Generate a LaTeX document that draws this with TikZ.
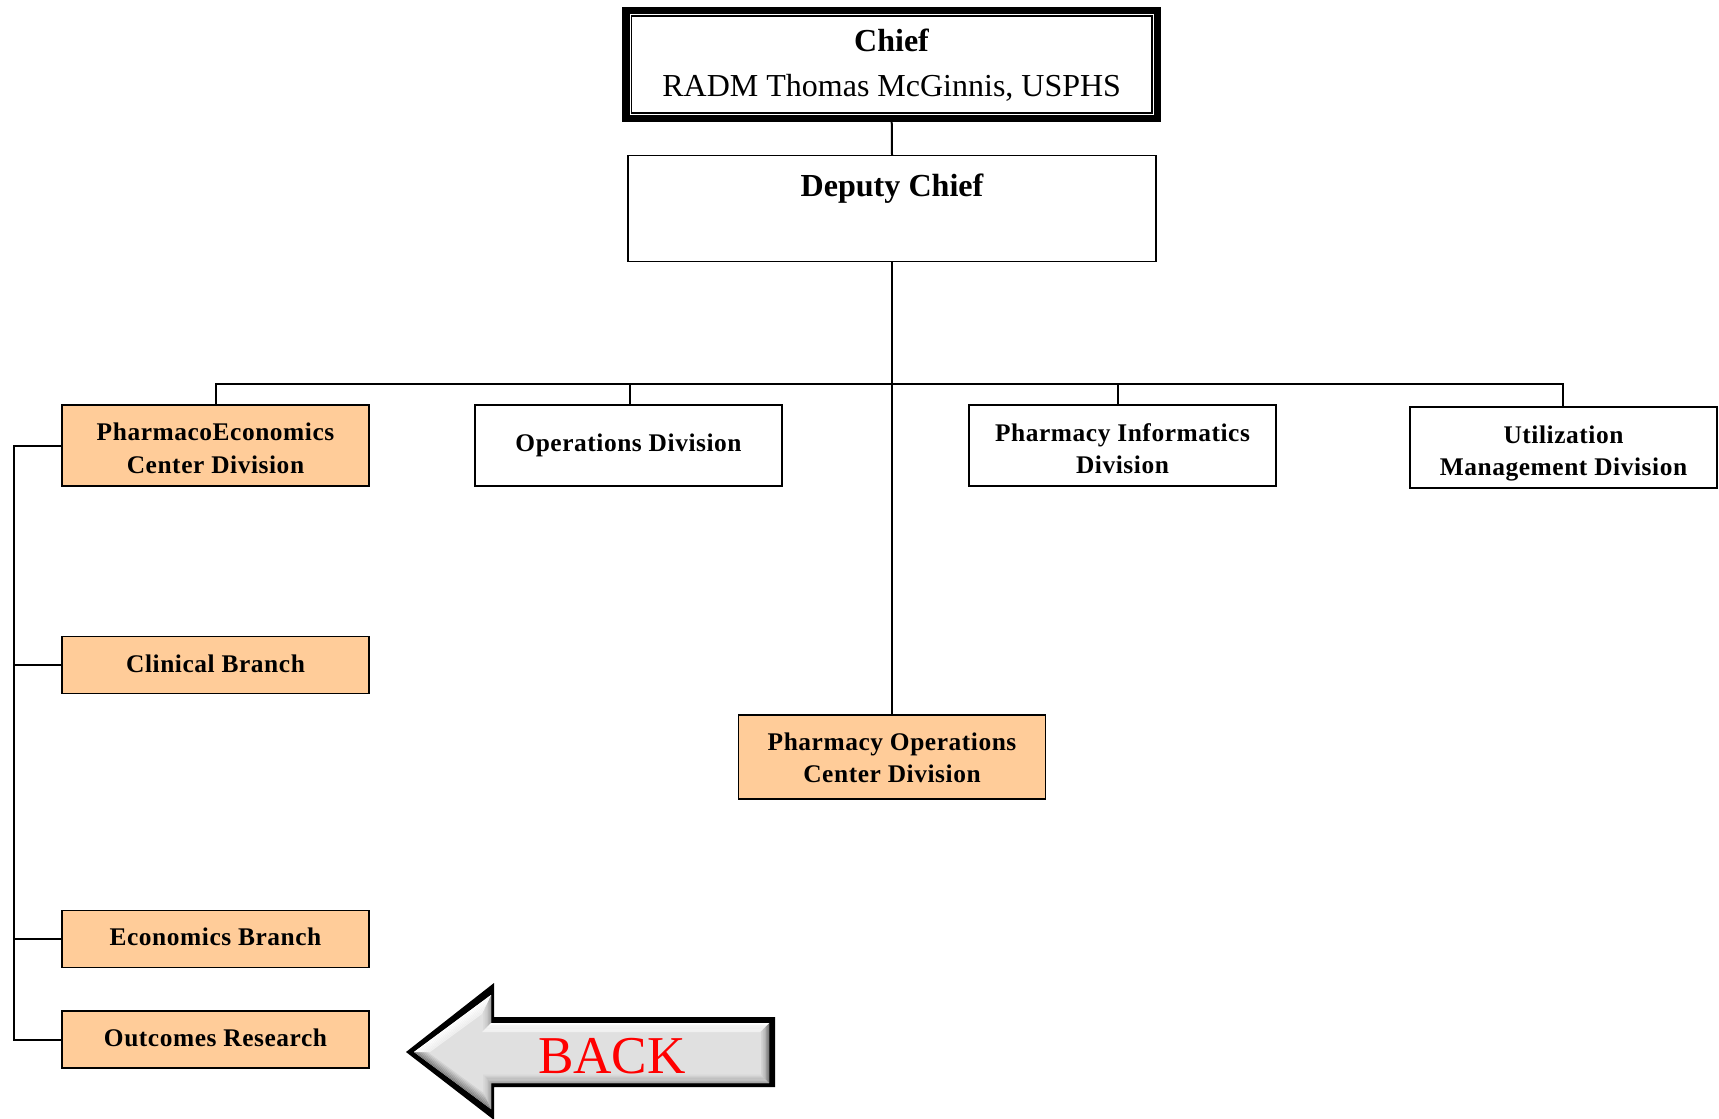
\documentclass[tikz,border=0pt]{standalone}
\usepackage{fontspec}
\usetikzlibrary{calc}
\setmainfont{Liberation Serif}
\newcommand{\boxlines}[2]{\raisebox{#1}[0pt][0pt]{\begin{tabular}{@{}c@{}}#2\end{tabular}}}
% bevel strip: outer edge #1--#2, inner edge #4--#3, colour #5 at the outer edge, #6 at the inner edge
\newcommand{\bevelstrip}[6]{%
  \foreach \i in {0,...,7}{%
    \pgfmathsetmacro{\ta}{\i/8}%
    \pgfmathsetmacro{\tb}{(\i+1)/8}%
    \pgfmathtruncatemacro{\pc}{100*\i/7}%
    \fill[color={#6!\pc!#5}] ($#1!\ta!#4$) -- ($#2!\ta!#3$) -- ($#2!\tb!#3$) -- ($#1!\tb!#4$) -- cycle;
  }%
}
\begin{document}
\begin{tikzpicture}[x=0.5pt,y=-0.5pt,
  orgbox/.style={draw=black,line width=0.95pt,fill=white,inner sep=0pt,outer sep=0pt,
    minimum width=153.5pt,font=\fontsize{12.7}{16.2}\selectfont\bfseries\addfontfeature{LetterSpace=2.2}},
  peach/.style={orgbox,fill=peachfill},
  conn/.style={draw=black,line width=1pt},
  headtext/.style={font=\fontsize{16}{22.15}\selectfont,inner sep=0pt}]
\definecolor{peachfill}{HTML}{FFCC99}
\definecolor{facegray}{HTML}{E0E0E0}
\definecolor{bevdark}{HTML}{808080}
\definecolor{bevmid}{HTML}{A8A8A8}
\definecolor{bevlight}{HTML}{F0F0F0}
\useasboundingbox (0,0) rectangle (1719,1119);
% nodes
\node[draw=black,line width=3.6pt,inner sep=0pt,outer sep=0pt,minimum width=265.8pt,minimum height=54pt,headtext] (chief) at (891.7,64.5)
  {\boxlines{-4.6pt}{\textbf{Chief}\\RADM Thomas McGinnis, USPHS}};
\draw[line width=0.75pt] ([shift={(2.7pt,-2.7pt)}]chief.north west) rectangle ([shift={(-2.7pt,2.7pt)}]chief.south east);
\node[orgbox,minimum width=264pt,minimum height=53pt] (deputy) at (892,208.5) {};
\node[anchor=base,inner sep=0pt,font=\fontsize{16.05}{20}\selectfont\bfseries] (deputytext) at (892,196.7) {Deputy Chief};
\node[peach,minimum height=40.5pt] (pe) at (215.5,445.5) {\boxlines{-5.6pt}{PharmacoEconomics\\Center Division}};
\node[orgbox,minimum height=40.5pt] (ops) at (628.5,445.5) {\boxlines{-2.75pt}{Operations Division}};
\node[orgbox,minimum height=40.5pt] (inf) at (1122.5,445.5) {\boxlines{-5.65pt}{Pharmacy Informatics\\Division}};
\node[orgbox,minimum height=40.5pt] (util) at (1563.5,447.5) {\boxlines{-5.65pt}{Utilization\\Management Division}};
\node[peach,minimum height=28.5pt] (clin) at (215.5,665) {\boxlines{-3.35pt}{Clinical Branch}};
\node[peach,minimum height=28.5pt] (econ) at (215.5,939) {\boxlines{-3pt}{Economics Branch}};
\node[peach,minimum height=28.5pt] (outc) at (215.5,1039.5) {\boxlines{-3.1pt}{Outcomes Research}};
\node[peach,minimum height=42pt] (poc) at (892,757) {\boxlines{-4.5pt}{Pharmacy Operations\\Center Division}};
% connectors
\coordinate (bus) at (892,383.5);
\coordinate (busPE) at (216,383.5);
\coordinate (busOps) at (630,383.5);
\coordinate (busInf) at (1118,383.5);
\coordinate (busUtil) at (1563,383.5);
\coordinate (lft) at (14,445.5);
\draw[conn] (chief.south) -- (deputy.north);
\draw[conn] (deputy.south) -- (poc.north);
\draw[conn] (busPE |- pe.north) -- (busPE) -- (busUtil) -- (busUtil |- util.north);
\draw[conn] (busOps) -- (busOps |- ops.north);
\draw[conn] (busInf) -- (busInf |- inf.north);
\draw[conn] (pe.west) -- (lft) -- (lft |- outc.west) -- (outc.west);
\draw[conn] (lft |- clin.west) -- (clin.west);
\draw[conn] (lft |- econ.west) -- (econ.west);
% BACK arrow
\fill[black] (406,1052) -- (494,983) -- (494,1017) -- (775,1017) -- (775,1087) -- (494,1087) -- (494,1120) -- cycle;
\fill[facegray] (414,1052) -- (491,995) -- (491,1023) -- (769,1023) -- (769,1083) -- (491,1083) -- (491,1109) -- cycle;
\bevelstrip{(491,995)}{(491,1023)}{(482,1032)}{(482,1014)}{bevmid}{facegray}
\bevelstrip{(491,1083)}{(491,1109)}{(482,1090)}{(482,1073)}{bevmid}{facegray}
\bevelstrip{(414,1052)}{(491,1109)}{(482,1090)}{(430,1052)}{bevdark}{facegray}
\bevelstrip{(491,1083)}{(769,1083)}{(760,1073)}{(482,1073)}{bevmid}{facegray}
\bevelstrip{(769,1023)}{(769,1083)}{(760,1073)}{(760,1032)}{bevdark}{facegray}
\bevelstrip{(414,1052)}{(491,995)}{(482,1014)}{(430,1052)}{white}{bevlight}
\bevelstrip{(491,1023)}{(769,1023)}{(760,1032)}{(482,1032)}{white}{bevlight}
\node[inner sep=0pt,text=red,font=\fontsize{26.6}{30}\selectfont] (back) at (612,1056) {BACK};
\end{tikzpicture}
\end{document}
